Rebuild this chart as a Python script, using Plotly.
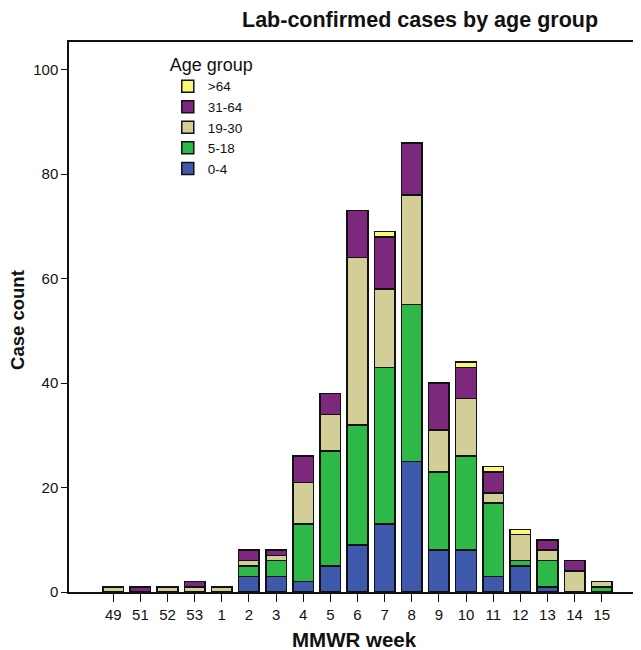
import plotly.graph_objects as go

weeks = ["49", "51", "52", "53", "1", "2", "3", "4", "5", "6", "7", "8", "9", "10", "11", "12", "13", "14", "15"]
age_0_4 = [0, 0, 0, 0, 0, 3, 3, 2, 5, 9, 13, 25, 8, 8, 3, 5, 1, 0, 0]
age_5_18 = [0, 0, 0, 0, 0, 2, 3, 11, 22, 23, 30, 30, 15, 18, 14, 1, 5, 0, 1]
age_19_30 = [1, 0, 1, 1, 1, 1, 1, 8, 7, 32, 15, 21, 8, 11, 2, 5, 2, 4, 1]
age_31_64 = [0, 1, 0, 1, 0, 2, 1, 5, 4, 9, 10, 10, 9, 6, 4, 0, 2, 2, 0]
age_65_plus = [0, 0, 0, 0, 0, 0, 0, 0, 0, 0, 1, 0, 0, 1, 1, 1, 0, 0, 0]

series = [
    ("0-4", age_0_4, "#3E58AC"),
    ("5-18", age_5_18, "#2EB848"),
    ("19-30", age_19_30, "#D3CE97"),
    ("31-64", age_31_64, "#7C287D"),
    (">64", age_65_plus, "#FBF873"),
]

FONT = "Arial, Liberation Sans, sans-serif"

fig = go.Figure()
for name, vals, color in series:
    fig.add_trace(go.Bar(
        x=weeks,
        y=[v if v else None for v in vals],
        name=name,
        marker=dict(color=color, line=dict(color="#111111", width=1.5)),
    ))

fig.update_layout(
    barmode="stack",
    bargap=0.24,
    width=633,
    height=642,
    margin=dict(l=61, r=1, t=34, b=58),
    plot_bgcolor="white",
    paper_bgcolor="white",
    font=dict(family=FONT, color="#111111", size=14),
    showlegend=True,
    legend=dict(
        title=dict(text="Age group", font=dict(size=18, family=FONT)),
        traceorder="reversed",
        x=0.173, y=0.99, xanchor="left", yanchor="top",
        bgcolor="rgba(0,0,0,0)",
        font=dict(size=13.5, family=FONT),
        itemwidth=30,
    ),
    xaxis=dict(
        type="category",
        range=[-1.63, 19.41],
        showline=True, linecolor="#111111", linewidth=1.5, mirror=True,
        ticks="outside", ticklen=8, tickwidth=1.3, tickcolor="#111111",
        tickfont=dict(size=15, family=FONT, color="#111111"),
        showgrid=False, zeroline=False,
    ),
    yaxis=dict(
        range=[0, 105.3],
        tickvals=[0, 20, 40, 60, 80, 100],
        showline=True, linecolor="#111111", linewidth=1.5,
        ticks="outside", ticklen=6, tickwidth=1.3, tickcolor="#111111",
        tickfont=dict(size=15, family=FONT, color="#111111"),
        showgrid=False, zeroline=False,
    ),
    annotations=[
        dict(text="<b>Lab-confirmed cases by age group</b>", xref="paper", yref="paper",
             x=0.615, y=1.04, xanchor="center", yanchor="middle", showarrow=False,
             font=dict(size=21.5, family=FONT, color="#111111")),
        dict(text="<b>MMWR week</b>", xref="paper", yref="paper",
             x=0.5, y=-0.087, xanchor="center", yanchor="middle", showarrow=False,
             font=dict(size=20.5, family=FONT, color="#111111")),
        dict(text="<b>Case count</b>", xref="paper", yref="paper", textangle=-90,
             x=-0.089, y=0.495, xanchor="center", yanchor="middle", showarrow=False,
             font=dict(size=18.5, family=FONT, color="#111111")),
    ],
)

fig.write_html("out.html")
